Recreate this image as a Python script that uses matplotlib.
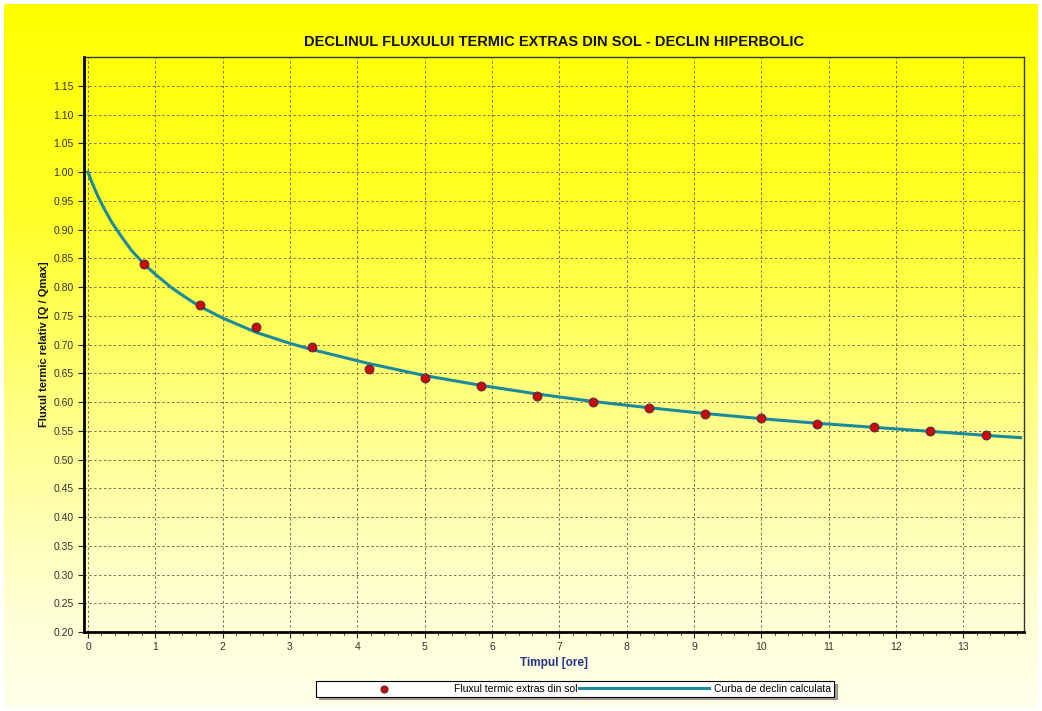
import numpy as np
import matplotlib
matplotlib.use('Agg')
import matplotlib.pyplot as plt
from matplotlib.colors import LinearSegmentedColormap
from matplotlib.ticker import MultipleLocator, AutoMinorLocator

plt.rcParams['font.family'] = ['Liberation Sans', 'DejaVu Sans']

# measured points (hours, Q/Qmax)
t_meas = [0.833, 1.667, 2.5, 3.333, 4.167, 5.0, 5.833, 6.667, 7.5, 8.333,
          9.167, 10.0, 10.833, 11.667, 12.5, 13.333]
q_meas = [0.840, 0.768, 0.730, 0.695, 0.658, 0.642, 0.627, 0.610, 0.600, 0.590,
          0.580, 0.572, 0.562, 0.556, 0.549, 0.542]

# calculated decline curve
t_curve = [0.0, 0.05, 0.15, 0.25, 0.35, 0.5, 0.65, 0.833, 1.0, 1.25, 1.5, 1.667,
           2.0, 2.5, 3.0, 3.333, 4.167, 5.0, 5.833, 6.667, 7.5, 8.333, 9.167,
           10.0, 10.833, 11.667, 12.5, 13.333, 13.85]
q_curve = [1.000, 0.984, 0.957, 0.934, 0.913, 0.887, 0.863, 0.840, 0.822, 0.798,
           0.778, 0.766, 0.746, 0.721, 0.702, 0.691, 0.667, 0.646, 0.629, 0.614,
           0.601, 0.590, 0.580, 0.571, 0.563, 0.556, 0.549, 0.542, 0.538]

fig = plt.figure(figsize=(10.42, 7.11), dpi=100)
fig.patch.set_facecolor('white')

# yellow background gradient
bg = fig.add_axes([0.004, 0.004, 0.992, 0.99])
bg.axis('off')
cmap = LinearSegmentedColormap.from_list(
    'yel', [(0.0, '#ffffeb'), (0.15, '#ffffd2'), (0.4, '#ffff8c'),
            (0.7, '#ffff28'), (1.0, '#ffff00')])
bg.imshow(np.linspace(0, 1, 256).reshape(-1, 1), aspect='auto', cmap=cmap,
          origin='lower', extent=[0, 1, 0, 1])
bg.set_zorder(0)

ax = fig.add_axes([0.0806, 0.1111, 0.9021, 0.8087])
ax.patch.set_alpha(0)
ax.set_zorder(1)

ax.plot(t_curve, q_curve, color='#1a8a9c', lw=2.2, zorder=3,
        label='Curba de declin calculata')
ax.scatter(t_meas, q_meas, s=40, color='#cc0a0a', edgecolor='#5a2a40', lw=0.8,
           zorder=4, label='Fluxul termic extras din sol')

ax.set_xlim(-0.06, 13.9)
ax.set_ylim(0.20, 1.20)
ax.xaxis.set_major_locator(MultipleLocator(1))
ax.xaxis.set_minor_locator(AutoMinorLocator(5))
ax.set_yticks(np.arange(0.20, 1.151, 0.05))
ax.yaxis.set_major_formatter(plt.FuncFormatter(lambda v, p: f'{v:.2f}'))

ax.grid(True, which='major', ls=(0, (2.5, 2.5)), color='#7a7050', lw=0.7)
ax.tick_params(axis='both', which='major', labelsize=7.5, colors='#222222',
               length=4, width=0.8, labelcolor='#333333')
ax.tick_params(axis='x', which='minor', length=2.5, width=0.6)

for s in ['left', 'bottom']:
    ax.spines[s].set_linewidth(2)
    ax.spines[s].set_color('black')
for s in ['top', 'right']:
    ax.spines[s].set_linewidth(1)
    ax.spines[s].set_color('#333333')

ax.set_title('DECLINUL FLUXULUI TERMIC EXTRAS DIN SOL - DECLIN HIPERBOLIC',
             fontsize=10.5, fontweight='bold', color='#111111', pad=8)
ax.set_xlabel('Timpul [ore]', fontsize=8.5, fontweight='bold', color='#23338a',
              labelpad=3)
ax.set_ylabel('Fluxul termic relativ [Q / Qmax]', fontsize=8, fontweight='bold',
              color='#111111', labelpad=3)

h, l = ax.get_legend_handles_labels()
leg = fig.legend(h[::-1], l[::-1], loc='center', bbox_to_anchor=(0.552, 0.031),
                 ncol=2, fontsize=7.5, frameon=True, fancybox=False, shadow=True,
                 handlelength=12.5, columnspacing=0.1, handletextpad=0.5,
                 borderpad=0.25, markerscale=0.8)
leg.get_frame().set_edgecolor('black')
leg.get_frame().set_linewidth(0.8)

fig.savefig('out.png', dpi=100)
